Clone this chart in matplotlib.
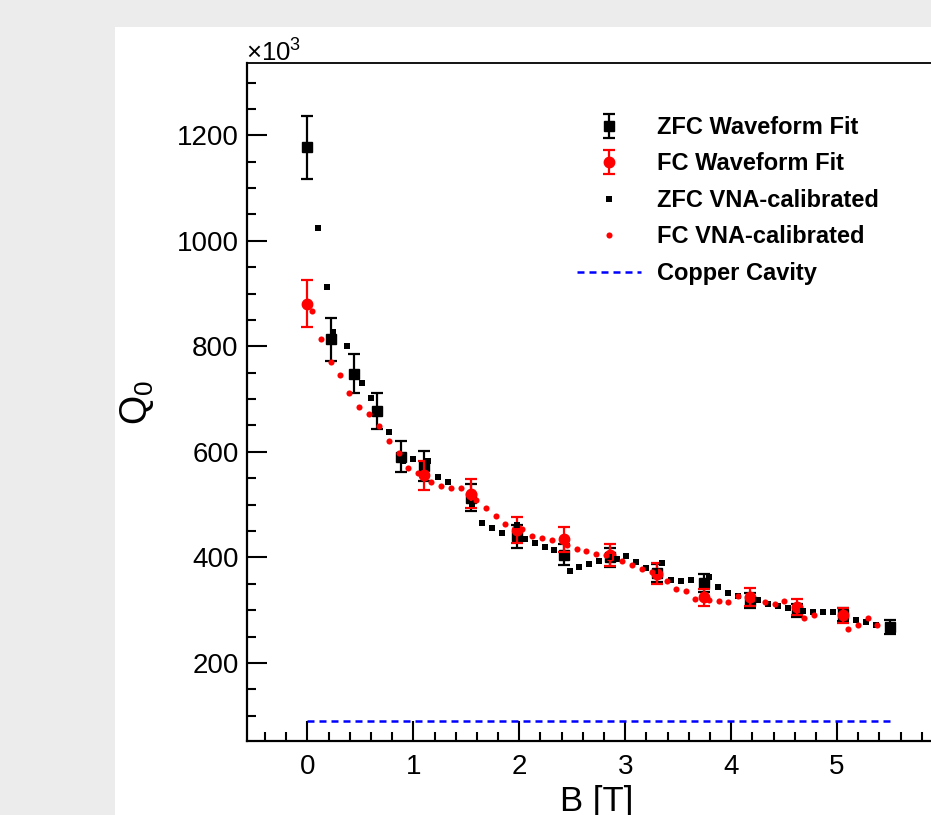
import matplotlib
matplotlib.use('Agg')
import matplotlib.pyplot as plt
from matplotlib.ticker import MultipleLocator
from matplotlib.patches import Rectangle

plt.rcParams['font.family'] = ['Liberation Sans', 'DejaVu Sans']
plt.rcParams['mathtext.fontset'] = 'custom'
plt.rcParams['mathtext.rm'] = 'Liberation Sans'
plt.rcParams['mathtext.it'] = 'Liberation Sans:italic'
plt.rcParams['mathtext.bf'] = 'Liberation Sans:bold'

# ---------------- data (Q in units of 10^3) ----------------
zfc_wf_B = [0.00, 0.22, 0.44, 0.66, 0.88, 1.10, 1.54, 1.98, 2.42, 2.86, 3.30, 3.74, 4.18, 4.62, 5.06, 5.50]
zfc_wf_Q = [1177, 813, 748, 678, 591, 573, 513, 440, 405, 400, 371, 352, 318, 299, 292, 268]
zfc_wf_err = [60, 41, 37, 34, 30, 28, 26, 22, 20, 18, 17, 17, 14.5, 12.5, 13, 12.5]

fc_wf_B = [0.00, 1.10, 1.54, 1.98, 2.42, 2.86, 3.30, 3.74, 4.18, 4.62, 5.06]
fc_wf_Q = [881, 556, 521, 452, 434, 404, 369, 324, 325, 306, 290]
fc_wf_err = [44, 27.5, 27, 24, 23, 20.5, 19.5, 17, 17, 16, 15]

zfc_vna_B = [0.098, 0.186, 0.239, 0.371, 0.512, 0.600, 0.772, 0.904, 0.998, 1.139, 1.234, 1.325,
             1.557, 1.648, 1.742, 1.836, 1.980, 2.056, 2.147, 2.240, 2.326, 2.476, 2.568, 2.662,
             2.756, 2.851, 2.919, 3.007, 3.100, 3.196, 3.283, 3.343, 3.431, 3.528, 3.622, 3.790,
             3.877, 3.970, 4.065, 4.253, 4.347, 4.440, 4.536, 4.680, 4.774, 4.868, 4.966, 5.176,
             5.270, 5.364]
zfc_vna_Q = [1025, 912, 827, 801, 731, 703, 638, 583, 586, 582, 553, 542,
             501, 465, 456, 447, 462, 435, 428, 420, 414, 375, 381, 387,
             394, 400, 397, 402, 391, 379, 375, 389, 358, 355, 357, 362,
             343, 333, 327, 320, 311, 308, 305, 299, 296, 297, 296, 282,
             277, 272]

fc_vna_B = [0.047, 0.129, 0.220, 0.308, 0.396, 0.490, 0.578, 0.672, 0.766, 0.866, 0.951, 1.045,
            1.171, 1.265, 1.356, 1.454, 1.595, 1.689, 1.777, 1.868, 2.030, 2.125, 2.216, 2.310,
            2.452, 2.542, 2.634, 2.725, 2.819, 2.970, 3.064, 3.158, 3.252, 3.390, 3.480, 3.572,
            3.660, 3.795, 3.886, 3.974, 4.068, 4.318, 4.410, 4.500, 4.690, 4.783, 5.104, 5.198,
            5.288, 5.377]
fc_vna_Q = [867, 813, 771, 745, 712, 685, 671, 649, 620, 597, 570, 560,
            542, 535, 532, 531, 509, 493, 479, 464, 453, 441, 437, 433,
            424, 415, 412, 406, 405, 394, 385, 378, 372, 355, 340, 336,
            321, 319, 317, 315, 326, 315, 311, 318, 286, 290, 264, 271,
            285, 272]

copper_B = [0.0, 5.5]
copper_Q = [90, 90]

xtick_vals = [0, 1, 2, 3, 4, 5]
ytick_vals = [200, 400, 600, 800, 1000, 1200]

labels = ['ZFC Waveform Fit', 'FC Waveform Fit', 'ZFC VNA-calibrated',
          'FC VNA-calibrated', 'Copper Cavity']

# ---------------- figure ----------------
W, H = 931, 815
fig = plt.figure(figsize=(W / 100, H / 100), dpi=100, facecolor='#ececec')
fig.add_artist(Rectangle((115 / W, 0), 1, (H - 27) / H, transform=fig.transFigure,
                         facecolor='white', edgecolor='none', zorder=0))

ax = fig.add_axes([247 / W, (H - 741) / H, 696 / W, 678 / H])
ax.set_facecolor('white')

h1 = ax.errorbar(zfc_wf_B, zfc_wf_Q, yerr=zfc_wf_err, fmt='s', color='black', ms=6.5,
                 elinewidth=1.6, capsize=4.5, capthick=1.6, zorder=3)
h2 = ax.errorbar(fc_wf_B, fc_wf_Q, yerr=fc_wf_err, fmt='o', color='red', ms=7.5,
                 elinewidth=1.6, capsize=4.5, capthick=1.6, zorder=4)
h3, = ax.plot(zfc_vna_B, zfc_vna_Q, 's', color='black', ms=4.0, mew=0, zorder=5)
h4, = ax.plot(fc_vna_B, fc_vna_Q, 'o', color='red', ms=4.4, mew=0, zorder=6)
h5, = ax.plot(copper_B, copper_Q, color='#0000ff', lw=1.8, ls=(0, (2.8, 2.0)), zorder=2)

ax.set_xlim(-0.57, 6.0)
ax.set_ylim(52, 1337)
ax.set_xticks(xtick_vals)
ax.set_xticklabels([str(v) for v in xtick_vals])
ax.set_yticks(ytick_vals)
ax.set_yticklabels([str(v) for v in ytick_vals])
ax.xaxis.set_minor_locator(MultipleLocator(0.2))
ax.yaxis.set_minor_locator(MultipleLocator(50))
ax.tick_params(which='major', direction='in', length=14.5, width=1.5, labelsize=20,
               top=False, right=False)
ax.tick_params(which='minor', direction='in', length=6.5, width=1.5, top=False, right=False)
ax.tick_params(axis='x', which='major', pad=9)
ax.tick_params(axis='y', which='major', pad=6)
for s in ['left', 'bottom']:
    ax.spines[s].set_linewidth(1.6)
ax.spines['top'].set_linewidth(1.3)

# axis texts
fig.text(137 / W, (H - 402) / H, r'$\mathrm{Q}_{0}$', rotation=90, ha='center', va='center',
         fontsize=27)
fig.text(597 / W, (H - 785) / H, 'B [T]', ha='center', va='top', fontsize=25)
fig.text(246 / W, (H - 62) / H, r'$\times10^{3}$', ha='left', va='baseline', fontsize=18.5)

leg = ax.legend([h1, h2, h3, h4, h5], labels, loc='upper left',
                bbox_to_anchor=(577 / W, (H - 116) / H), bbox_transform=fig.transFigure,
                frameon=False, borderpad=0, borderaxespad=0, handlelength=2.7,
                handletextpad=0.7, labelspacing=0.57,
                prop={'family': 'Liberation Sans', 'weight': 'bold', 'size': 17})

fig.savefig('out.png', dpi=100, facecolor=fig.get_facecolor())
